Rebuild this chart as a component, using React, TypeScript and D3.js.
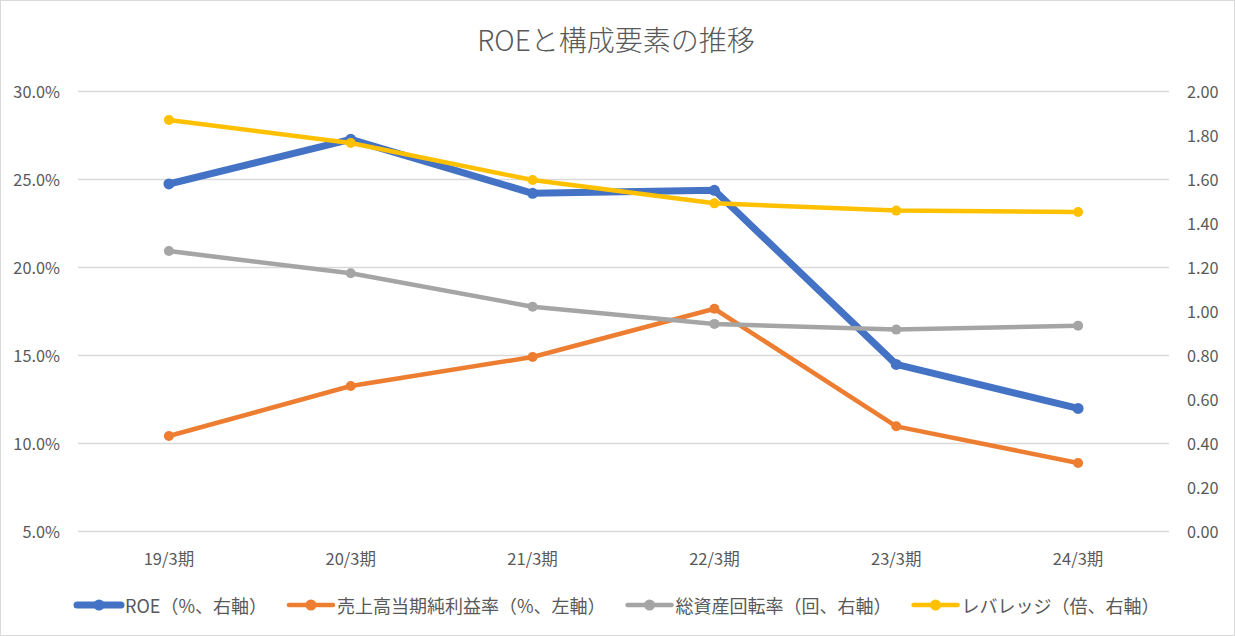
import React, { useEffect, useRef } from "react";
import * as d3 from "d3";

const categories = ["19/3期", "20/3期", "21/3期", "22/3期", "23/3期", "24/3期"];
const roe = [24.7, 27.24, 24.17, 24.34, 14.45, 11.95];
const netMargin = [10.38, 13.22, 14.87, 17.61, 10.93, 8.85];
const assetTurnover = [1.271, 1.17, 1.018, 0.94, 0.914, 0.932];
const leverage = [1.867, 1.762, 1.594, 1.488, 1.455, 1.449];
const leftTicks = [5, 10, 15, 20, 25, 30];
const rightTicks = [0, 0.2, 0.4, 0.6, 0.8, 1.0, 1.2, 1.4, 1.6, 1.8, 2.0];
const title = "ROEと構成要素の推移";
const seriesNames = [
  "ROE（%、右軸）",
  "売上高当期純利益率（%、左軸）",
  "総資産回転率（回、右軸）",
  "レバレッジ（倍、右軸）",
];

const W = 1235;
const H = 636;
const FONT = "'Noto Sans CJK JP', 'Noto Sans', sans-serif";
const TEXT = "#595959";

export default function App() {
  const ref = useRef<SVGSVGElement | null>(null);

  useEffect(() => {
    const svg = d3.select(ref.current);
    svg.selectAll("*").remove();

    const plot = { left: 78, right: 1169, top: 90.7, bottom: 530.7 };

    svg.append("rect").attr("x", 0.5).attr("y", 0.5).attr("width", W - 1).attr("height", H - 1)
      .attr("fill", "#fff").attr("stroke", "#d9d9d9").attr("stroke-width", 1);

    const x = d3.scaleBand<string>().domain(categories).range([plot.left, plot.right]).padding(0);
    const cx = (c: string) => (x(c) as number) + x.bandwidth() / 2;
    const yL = d3.scaleLinear().domain([5, 30]).range([plot.bottom, plot.top]);
    const yR = d3.scaleLinear().domain([0, 2]).range([plot.bottom, plot.top]);

    // title
    svg.append("text").attr("x", 616).attr("y", 51).attr("text-anchor", "middle")
      .attr("font-family", FONT).attr("font-size", 28).attr("font-weight", 300).attr("fill", TEXT).text(title);

    // gridlines
    svg.append("g").selectAll("line").data(leftTicks).join("line")
      .attr("x1", plot.left).attr("x2", plot.right)
      .attr("y1", (d) => Math.round(yL(d)) + 0.5).attr("y2", (d) => Math.round(yL(d)) + 0.5)
      .attr("stroke", "#d9d9d9").attr("stroke-width", 1.3);

    // left axis labels
    svg.append("g").selectAll("text").data(leftTicks).join("text")
      .attr("x", 60).attr("y", (d) => yL(d)).attr("text-anchor", "end").attr("dominant-baseline", "central")
      .attr("font-family", FONT).attr("font-size", 16.3).attr("fill", TEXT)
      .text((d) => d3.format(".1f")(d) + "%");

    // right axis labels
    svg.append("g").selectAll("text").data(rightTicks).join("text")
      .attr("x", 1187).attr("y", (d) => yR(d)).attr("text-anchor", "start").attr("dominant-baseline", "central")
      .attr("font-family", FONT).attr("font-size", 16.3).attr("fill", TEXT)
      .text((d) => d3.format(".2f")(d));

    // category labels
    svg.append("g").selectAll("text").data(categories).join("text")
      .attr("x", (d) => cx(d)).attr("y", 558).attr("text-anchor", "middle").attr("dominant-baseline", "central")
      .attr("font-family", FONT).attr("font-size", 16.5).attr("fill", TEXT).text((d) => d);

    const series = [
      { name: seriesNames[0], values: roe, y: yL, color: "#4472C4", width: 7, r: 5.5 },
      { name: seriesNames[1], values: netMargin, y: yL, color: "#ED7D31", width: 4.5, r: 5 },
      { name: seriesNames[2], values: assetTurnover, y: yR, color: "#A5A5A5", width: 4.5, r: 5 },
      { name: seriesNames[3], values: leverage, y: yR, color: "#FFC000", width: 4.5, r: 5 },
    ];

    series.forEach((s) => {
      const line = d3.line<number>().x((_, i) => cx(categories[i])).y((d) => s.y(d));
      const g = svg.append("g");
      g.append("path").attr("d", line(s.values) as string).attr("fill", "none")
        .attr("stroke", s.color).attr("stroke-width", s.width).attr("stroke-linejoin", "round").attr("stroke-linecap", "round");
      g.selectAll("circle").data(s.values).join("circle")
        .attr("cx", (_, i) => cx(categories[i])).attr("cy", (d) => s.y(d)).attr("r", s.r).attr("fill", s.color);
    });

    // legend
    const legY = 605;
    let lx = 77;
    series.forEach((s) => {
      const g = svg.append("g");
      g.append("line").attr("x1", lx).attr("x2", lx + 44).attr("y1", legY).attr("y2", legY)
        .attr("stroke", s.color).attr("stroke-width", s.width).attr("stroke-linecap", "round");
      g.append("circle").attr("cx", lx + 22).attr("cy", legY).attr("r", 5.5).attr("fill", s.color);
      const t = g.append("text").attr("x", lx + 48).attr("y", legY).attr("dominant-baseline", "central")
        .attr("font-family", FONT).attr("font-size", 18).attr("fill", TEXT).text(s.name);
      const tw = (t.node() as SVGTextElement).getComputedTextLength();
      lx = lx + 48 + tw + 22;
    });
  }, []);

  return (
    <div style={{ position: "absolute", left: 0, top: 0 }}>
      <svg ref={ref} width={W} height={H} style={{ display: "block" }} />
    </div>
  );
}
